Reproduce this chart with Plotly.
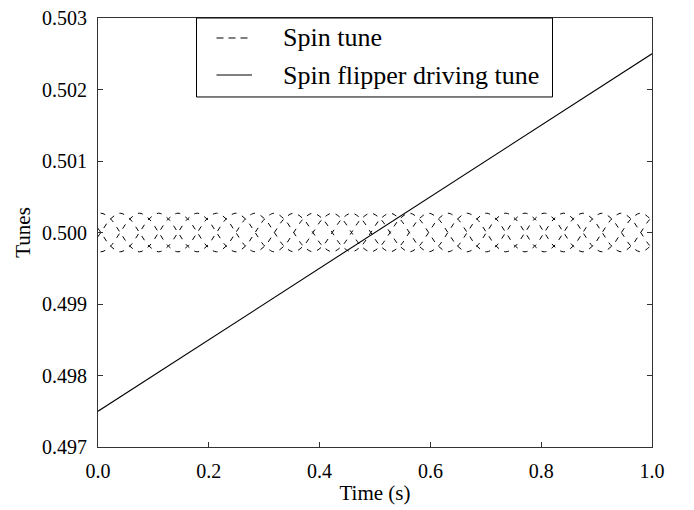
import plotly.graph_objects as go

# spin tune samples (time in s, deviation from 0.5 in units of 1e-4)
spin_t = [-0.0122, 0.0052, 0.0226, 0.0400, 0.0574, 0.0748, 0.0922, 0.1096, 0.1270, 0.1444,
          0.1618, 0.1792, 0.1966, 0.2140, 0.2314, 0.2488, 0.2662, 0.2836, 0.3010, 0.3184,
          0.3358, 0.3532, 0.3706, 0.3880, 0.4054, 0.4228, 0.4402, 0.4576, 0.4750, 0.4924,
          0.5098, 0.5272, 0.5446, 0.5620, 0.5794, 0.5968, 0.6142, 0.6316, 0.6490, 0.6664,
          0.6838, 0.7012, 0.7186, 0.7360, 0.7534, 0.7708, 0.7882, 0.8056, 0.8230, 0.8404,
          0.8578, 0.8752, 0.8926, 0.9100, 0.9274, 0.9448, 0.9622, 0.9796, 0.9970, 1.0144]

spin_a = [-1.9, 0, 1.9, 2.7, 1.9, 0, -1.9, -2.7,
          -1.9, 0, 1.9, 2.7, 1.9, 0, -1.9, -2.7,
          -1.9, 0, 1.9, 2.7, 1.9, 0, -1.9, -2.7,
          -1.9, 0, 1.9, 2.7, 1.9, 0, -1.9, -2.7,
          -1.9, 0, 1.9, 2.7, 1.9, 0, -1.9, -2.7,
          -1.9, 0, 1.9, 2.7, 1.9, 0, -1.9, -2.7,
          -1.9, 0, 1.9, 2.7, 1.9, 0, -1.9, -2.7,
          -1.9, 0, 1.9, 2.7]
spin_b = [1.9, 0, -1.9, -2.7, -1.9, 0, 1.9, 2.7,
          1.9, 0, -1.9, -2.7, -1.9, 0, 1.9, 2.7,
          1.9, 0, -1.9, -2.7, -1.9, 0, 1.9, 2.7,
          1.9, 0, -1.9, -2.7, -1.9, 0, 1.9, 2.7,
          1.9, 0, -1.9, -2.7, -1.9, 0, 1.9, 2.7,
          1.9, 0, -1.9, -2.7, -1.9, 0, 1.9, 2.7,
          1.9, 0, -1.9, -2.7, -1.9, 0, 1.9, 2.7,
          1.9, 0, -1.9, -2.7]
spin_c = [-1.9, -2.7, -1.9, 0, 1.9, 2.7, 1.9, 0,
          -1.9, -2.7, -1.9, 0, 1.9, 2.7, 1.9, 0,
          -1.9, -2.7, -1.9, 0, 1.9, 2.7, 1.9, 0,
          -1.9, -2.7, -1.9, 0, 1.9, 2.7, 1.9, 0,
          -1.9, -2.7, -1.9, 0, 1.9, 2.7, 1.9, 0,
          -1.9, -2.7, -1.9, 0, 1.9, 2.7, 1.9, 0,
          -1.9, -2.7, -1.9, 0, 1.9, 2.7, 1.9, 0,
          -1.9, -2.7, -1.9, 0]
spin_d = [1.9, 2.7, 1.9, 0, -1.9, -2.7, -1.9, 0,
          1.9, 2.7, 1.9, 0, -1.9, -2.7, -1.9, 0,
          1.9, 2.7, 1.9, 0, -1.9, -2.7, -1.9, 0,
          1.9, 2.7, 1.9, 0, -1.9, -2.7, -1.9, 0,
          1.9, 2.7, 1.9, 0, -1.9, -2.7, -1.9, 0,
          1.9, 2.7, 1.9, 0, -1.9, -2.7, -1.9, 0,
          1.9, 2.7, 1.9, 0, -1.9, -2.7, -1.9, 0,
          1.9, 2.7, 1.9, 0]

# spin flipper driving tune (linear ramp)
drive_t = [0.0, 1.0]
drive_tune = [0.4975, 0.5025]

x_ticks = [0.0, 0.2, 0.4, 0.6, 0.8, 1.0]
x_labels = ['0.0', '0.2', '0.4', '0.6', '0.8', '1.0']
y_ticks = [0.497, 0.498, 0.499, 0.500, 0.501, 0.502, 0.503]
y_labels = ['0.497', '0.498', '0.499', '0.500', '0.501', '0.502', '0.503']

FONT = 'Liberation Serif'
DASH = '5px,6px'

fig = go.Figure()
for dev in [spin_a, spin_b, spin_c, spin_d]:
    fig.add_trace(go.Scatter(x=spin_t, y=[0.5 + d * 1e-4 for d in dev], mode='lines',
                             line=dict(color='black', width=1, dash=DASH, shape='spline', smoothing=1.0),
                             showlegend=False, hoverinfo='skip'))
fig.add_trace(go.Scatter(x=drive_t, y=drive_tune, mode='lines',
                         line=dict(color='black', width=1.1), showlegend=False))

# hand drawn legend box
fig.add_shape(type='rect', xref='paper', yref='paper', x0=0.1778, x1=0.8204, y0=0.8159, y1=1.0,
              line=dict(color='black', width=1), fillcolor='white', layer='above')
fig.add_shape(type='line', xref='paper', yref='paper', x0=0.2139, x1=0.2780, y0=0.9534, y1=0.9534,
              line=dict(color='black', width=1, dash='7px,5px'), layer='above')
fig.add_shape(type='line', xref='paper', yref='paper', x0=0.2139, x1=0.2780, y0=0.8671, y1=0.8671,
              line=dict(color='black', width=1.1), layer='above')
fig.add_annotation(text='Spin tune', xref='paper', yref='paper', x=0.3312, y=0.9534,
                   xanchor='left', yanchor='middle', showarrow=False,
                   font=dict(family=FONT, size=26, color='black'))
fig.add_annotation(text='Spin flipper driving tune', xref='paper', yref='paper', x=0.3312, y=0.8671,
                   xanchor='left', yanchor='middle', showarrow=False,
                   font=dict(family=FONT, size=26, color='black'))

axis_style = dict(showline=True, linecolor='#333333', linewidth=1.2, mirror='allticks',
                  ticks='inside', ticklen=5, tickwidth=1, tickcolor='#333333',
                  showgrid=False, zeroline=False, automargin=False, ticklabeloverflow='allow',
                  tickfont=dict(family=FONT, size=20, color='black'))

# page body adds an 8px offset, so the figure is 8px smaller on each axis
fig.update_layout(
    width=686, height=502, autosize=False,
    margin=dict(l=90, r=42, t=10, b=63),
    paper_bgcolor='white', plot_bgcolor='white',
    showlegend=False,
    xaxis=dict(range=[0, 1], tickvals=x_ticks, ticktext=x_labels, ticklabelstandoff=6,
               title=dict(text='Time (s)', font=dict(family=FONT, size=21, color='black'), standoff=4),
               **axis_style),
    yaxis=dict(range=[0.497, 0.503], tickvals=y_ticks, ticktext=y_labels, ticklabelstandoff=6,
               title=dict(text='Tunes', font=dict(family=FONT, size=21, color='black'), standoff=5),
               **axis_style),
)

fig.write_html('out.html')
